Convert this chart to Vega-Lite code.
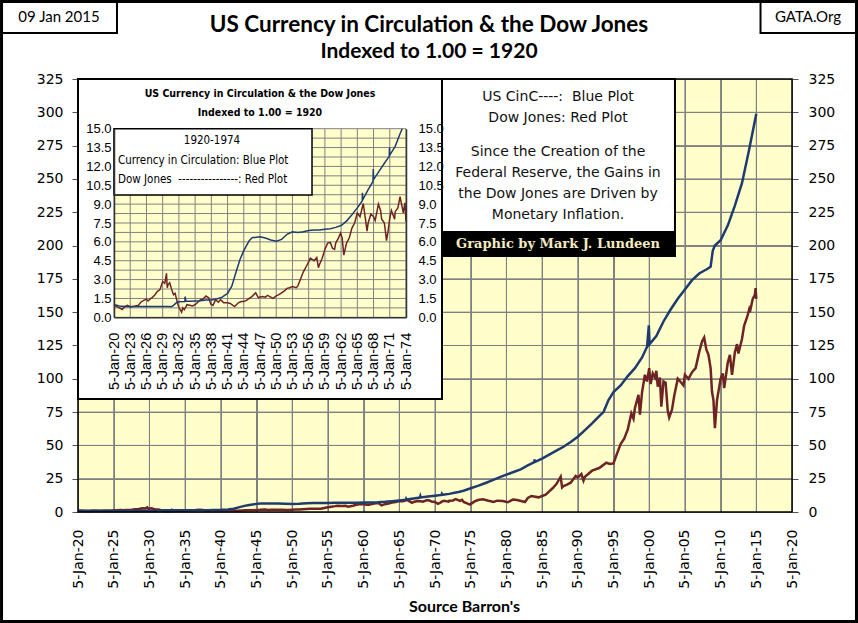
{
  "$schema": "https://vega.github.io/schema/vega-lite/v6.json",
  "width": 714,
  "height": 433,
  "autosize": {"type": "none"},
  "padding": {"left": 78, "top": 79, "right": 66, "bottom": 111},
  "background": "white",
  "config": {"view": {"fill": "#FFFFCC", "stroke": null}},
  "datasets": {
    "cinc": [
      {"year":1920,"value":1.00},{"year":1920.5,"value":0.95},{"year":1921,"value":0.90},{"year":1922,"value":0.86},{"year":1924,"value":0.86},{"year":1926,"value":0.86},{"year":1928,"value":0.85},{"year":1930,"value":0.85},{"year":1930.6,"value":0.84},{"year":1931,"value":0.95},{"year":1931.6,"value":1.18},{"year":1932,"value":1.24},{"year":1933.1,"value":1.26},{"year":1933.15,"value":1.65},{"year":1933.3,"value":1.28},{"year":1934,"value":1.27},{"year":1935,"value":1.30},{"year":1936,"value":1.32},{"year":1937,"value":1.38},{"year":1938,"value":1.38},{"year":1939,"value":1.45},{"year":1940,"value":1.60},{"year":1941,"value":1.90},{"year":1941.8,"value":2.50},{"year":1942.5,"value":3.50},{"year":1943.3,"value":4.60},{"year":1944,"value":5.30},{"year":1945,"value":6.10},{"year":1945.6,"value":6.35},{"year":1946,"value":6.35},{"year":1947,"value":6.40},{"year":1948,"value":6.30},{"year":1949,"value":6.15},{"year":1950,"value":6.05},{"year":1951,"value":6.20},{"year":1952,"value":6.60},{"year":1953,"value":6.80},{"year":1954,"value":6.75},{"year":1955,"value":6.80},{"year":1956,"value":6.90},{"year":1957,"value":6.95},{"year":1958,"value":6.95},{"year":1959,"value":7.00},{"year":1960,"value":7.05},{"year":1961,"value":7.15},{"year":1962,"value":7.30},{"year":1963,"value":7.65},{"year":1964,"value":8.15},{"year":1965,"value":8.70},{"year":1965.9,"value":9.25},{"year":1965.95,"value":9.90},{"year":1966,"value":9.35},{"year":1967,"value":10.15},{"year":1967.9,"value":10.80},{"year":1967.95,"value":11.80},{"year":1968,"value":10.95},{"year":1969,"value":11.60},{"year":1970,"value":12.25},{"year":1970.9,"value":12.80},{"year":1970.95,"value":13.50},{"year":1971,"value":12.90},{"year":1972,"value":13.60},{"year":1972.9,"value":14.60},{"year":1973.3,"value":15.00},{"year":1974,"value":16.0},{"year":1975,"value":17.8},{"year":1976,"value":19.6},{"year":1977,"value":21.6},{"year":1978,"value":23.8},{"year":1979,"value":26.0},{"year":1980,"value":28.0},{"year":1981,"value":30.0},{"year":1982,"value":32.0},{"year":1983,"value":35.0},{"year":1983.9,"value":37.4},{"year":1983.95,"value":39.5},{"year":1984,"value":37.6},{"year":1985,"value":40.0},{"year":1986,"value":43.0},{"year":1987,"value":46.0},{"year":1988,"value":49.0},{"year":1989,"value":52.5},{"year":1990,"value":56.5},{"year":1991,"value":61.5},{"year":1992,"value":66.5},{"year":1993,"value":72.0},{"year":1993.6,"value":75.0},{"year":1994.3,"value":84.0},{"year":1995,"value":90.0},{"year":1996,"value":95.0},{"year":1997,"value":102.0},{"year":1998,"value":108.0},{"year":1999,"value":116.0},{"year":1999.7,"value":124.0},{"year":1999.95,"value":140.0},{"year":2000.05,"value":126.0},{"year":2001,"value":132.0},{"year":2002,"value":143.0},{"year":2003,"value":152.0},{"year":2004,"value":160.0},{"year":2005,"value":167.0},{"year":2006,"value":174.0},{"year":2007,"value":179.0},{"year":2008,"value":182.0},{"year":2008.6,"value":184.0},{"year":2008.9,"value":196.0},{"year":2009.2,"value":200.0},{"year":2010,"value":204.0},{"year":2011,"value":215.0},{"year":2012,"value":230.0},{"year":2013,"value":247.0},{"year":2014,"value":272.0},{"year":2015,"value":299.0}
    ],
    "dow": [
      {"year":1920,"value":1.00},{"year":1920.5,"value":0.85},{"year":1921,"value":0.75},{"year":1921.5,"value":0.62},{"year":1922,"value":0.85},{"year":1922.5,"value":0.95},{"year":1923,"value":0.82},{"year":1923.5,"value":0.85},{"year":1924,"value":0.90},{"year":1924.5,"value":0.95},{"year":1925,"value":1.22},{"year":1925.5,"value":1.35},{"year":1926,"value":1.45},{"year":1926.3,"value":1.30},{"year":1926.8,"value":1.50},{"year":1927,"value":1.55},{"year":1927.5,"value":1.75},{"year":1928,"value":2.05},{"year":1928.5,"value":2.20},{"year":1929,"value":2.85},{"year":1929.4,"value":2.70},{"year":1929.7,"value":3.50},{"year":1929.85,"value":2.35},{"year":1930,"value":2.60},{"year":1930.3,"value":2.75},{"year":1930.6,"value":2.30},{"year":1931,"value":1.80},{"year":1931.3,"value":1.90},{"year":1931.8,"value":1.05},{"year":1932,"value":0.80},{"year":1932.5,"value":0.40},{"year":1932.7,"value":0.75},{"year":1933,"value":0.60},{"year":1933.5,"value":1.00},{"year":1934,"value":0.95},{"year":1934.5,"value":0.90},{"year":1935,"value":1.00},{"year":1935.5,"value":1.20},{"year":1936,"value":1.40},{"year":1936.5,"value":1.45},{"year":1937,"value":1.70},{"year":1937.5,"value":1.55},{"year":1937.9,"value":1.05},{"year":1938.3,"value":0.95},{"year":1938.8,"value":1.40},{"year":1939.3,"value":1.20},{"year":1939.7,"value":1.40},{"year":1940.3,"value":1.15},{"year":1941,"value":1.15},{"year":1941.5,"value":1.10},{"year":1942.3,"value":0.85},{"year":1943,"value":1.15},{"year":1943.5,"value":1.25},{"year":1944,"value":1.25},{"year":1944.5,"value":1.35},{"year":1945,"value":1.50},{"year":1945.5,"value":1.65},{"year":1946.2,"value":1.95},{"year":1946.7,"value":1.55},{"year":1947,"value":1.62},{"year":1947.5,"value":1.65},{"year":1948,"value":1.60},{"year":1948.4,"value":1.75},{"year":1949.4,"value":1.50},{"year":1950,"value":1.70},{"year":1950.5,"value":1.80},{"year":1951,"value":1.95},{"year":1951.5,"value":2.10},{"year":1952,"value":2.30},{"year":1952.5,"value":2.35},{"year":1953,"value":2.45},{"year":1953.7,"value":2.35},{"year":1954,"value":2.50},{"year":1954.5,"value":3.05},{"year":1955,"value":3.60},{"year":1955.5,"value":4.00},{"year":1956,"value":4.40},{"year":1956.3,"value":4.70},{"year":1957,"value":4.50},{"year":1957.5,"value":4.75},{"year":1957.8,"value":3.95},{"year":1958,"value":4.20},{"year":1958.5,"value":4.70},{"year":1959,"value":5.40},{"year":1959.5,"value":5.90},{"year":1960,"value":5.95},{"year":1960.4,"value":5.50},{"year":1960.8,"value":5.40},{"year":1961,"value":5.90},{"year":1961.5,"value":6.30},{"year":1961.9,"value":6.70},{"year":1962.2,"value":6.30},{"year":1962.5,"value":4.95},{"year":1963,"value":5.90},{"year":1963.5,"value":6.30},{"year":1964,"value":7.10},{"year":1964.5,"value":7.50},{"year":1965,"value":8.30},{"year":1965.5,"value":8.00},{"year":1966.1,"value":9.05},{"year":1966.5,"value":7.80},{"year":1966.8,"value":6.85},{"year":1967,"value":7.50},{"year":1967.5,"value":8.20},{"year":1968,"value":8.00},{"year":1968.3,"value":7.70},{"year":1968.9,"value":9.00},{"year":1969.3,"value":8.50},{"year":1969.5,"value":7.80},{"year":1970,"value":7.50},{"year":1970.4,"value":6.10},{"year":1970.7,"value":6.90},{"year":1971,"value":7.90},{"year":1971.3,"value":8.50},{"year":1971.9,"value":7.80},{"year":1972,"value":8.40},{"year":1972.5,"value":8.70},{"year":1972.9,"value":9.60},{"year":1973.5,"value":8.30},{"year":1973.8,"value":9.10},{"year":1974,"value":7.60},{"year":1974.5,"value":6.50},{"year":1974.9,"value":5.60},{"year":1975.5,"value":7.80},{"year":1976,"value":9.00},{"year":1976.7,"value":9.60},{"year":1977.5,"value":8.40},{"year":1978.2,"value":7.50},{"year":1978.7,"value":8.50},{"year":1979.5,"value":8.20},{"year":1980.2,"value":7.30},{"year":1980.9,"value":9.30},{"year":1981.5,"value":9.00},{"year":1982.6,"value":7.50},{"year":1983,"value":10.50},{"year":1983.5,"value":12.00},{"year":1984.5,"value":11.00},{"year":1985,"value":12.00},{"year":1985.5,"value":13.00},{"year":1986,"value":15.50},{"year":1986.5,"value":18.00},{"year":1987,"value":21.00},{"year":1987.6,"value":26.50},{"year":1987.8,"value":18.50},{"year":1988,"value":19.50},{"year":1988.5,"value":20.50},{"year":1989,"value":22.00},{"year":1989.7,"value":27.00},{"year":1990,"value":26.00},{"year":1990.5,"value":28.50},{"year":1990.8,"value":23.50},{"year":1991,"value":26.50},{"year":1992,"value":31.00},{"year":1993,"value":33.00},{"year":1994,"value":37.00},{"year":1994.5,"value":36.00},{"year":1995,"value":36.50},{"year":1995.5,"value":44.00},{"year":1996,"value":51.00},{"year":1996.5,"value":55.00},{"year":1997,"value":62.00},{"year":1997.5,"value":74.00},{"year":1997.8,"value":70.00},{"year":1998,"value":78.00},{"year":1998.5,"value":88.00},{"year":1998.7,"value":73.00},{"year":1999,"value":90.00},{"year":1999.4,"value":103.00},{"year":1999.7,"value":98.00},{"year":2000,"value":108.00},{"year":2000.2,"value":96.00},{"year":2000.5,"value":104.00},{"year":2000.8,"value":101.00},{"year":2001,"value":106.00},{"year":2001.2,"value":94.00},{"year":2001.5,"value":101.00},{"year":2001.7,"value":79.00},{"year":2002,"value":98.00},{"year":2002.3,"value":97.00},{"year":2002.6,"value":76.00},{"year":2002.8,"value":71.00},{"year":2003.2,"value":77.00},{"year":2003.5,"value":87.00},{"year":2004,"value":100.00},{"year":2004.5,"value":97.00},{"year":2004.8,"value":95.00},{"year":2005,"value":103.00},{"year":2005.5,"value":100.00},{"year":2006,"value":105.00},{"year":2006.5,"value":108.00},{"year":2007,"value":120.00},{"year":2007.4,"value":128.00},{"year":2007.7,"value":131.00},{"year":2008,"value":122.00},{"year":2008.3,"value":118.00},{"year":2008.6,"value":108.00},{"year":2008.8,"value":90.00},{"year":2009,"value":84.00},{"year":2009.2,"value":63.00},{"year":2009.5,"value":84.00},{"year":2010,"value":100.00},{"year":2010.3,"value":104.00},{"year":2010.5,"value":93.00},{"year":2011,"value":112.00},{"year":2011.3,"value":118.00},{"year":2011.6,"value":103.00},{"year":2012,"value":120.00},{"year":2012.3,"value":126.00},{"year":2012.5,"value":119.00},{"year":2013,"value":130.00},{"year":2013.3,"value":140.00},{"year":2013.7,"value":146.00},{"year":2014,"value":152.00},{"year":2014.1,"value":150.00},{"year":2014.5,"value":160.00},{"year":2014.8,"value":163.00},{"year":2014.9,"value":168.00},{"year":2015,"value":160.00}
    ],
    "gx": [{"year":1920},{"year":1923},{"year":1926},{"year":1929},{"year":1932},{"year":1935},{"year":1938},{"year":1941},{"year":1944},{"year":1947},{"year":1950},{"year":1953},{"year":1956},{"year":1959},{"year":1962},{"year":1965},{"year":1968},{"year":1971},{"year":1974}],
    "gy": [{"value":0},{"value":0.75},{"value":1.5},{"value":2.25},{"value":3},{"value":3.75},{"value":4.5},{"value":5.25},{"value":6},{"value":6.75},{"value":7.5},{"value":8.25},{"value":9},{"value":9.75},{"value":10.5},{"value":11.25},{"value":12},{"value":12.75},{"value":13.5},{"value":14.25},{"value":15}]
  },
  "layer": [
    {
      "resolve": {"axis": {"x": "independent", "y": "independent"}},
      "layer": [
        {
          "data": {"values": [{"year":1925},{"year":1930},{"year":1935},{"year":1940},{"year":1945},{"year":1950},{"year":1955},{"year":1960},{"year":1965},{"year":1970},{"year":1975},{"year":1980},{"year":1985},{"year":1990},{"year":1995},{"year":2000},{"year":2005},{"year":2010},{"year":2015}]},
          "mark": {"type": "rule", "color": "#808080", "strokeWidth": 1},
          "encoding": {
            "x": {"field": "year", "type": "quantitative", "scale": {"domain": [1920, 2020], "nice": false, "zero": false}, "axis": null},
            "y": {"datum": 0, "scale": {"domain": [0, 325], "nice": false, "zero": false}, "axis": null}, "y2": {"datum": 325}
          }
        },
        {
          "data": {"values": [{"value":25},{"value":50},{"value":75},{"value":100},{"value":125},{"value":150},{"value":175},{"value":200},{"value":225},{"value":250},{"value":275},{"value":300}]},
          "mark": {"type": "rule", "color": "#808080", "strokeWidth": 1},
          "encoding": {
            "y": {"field": "value", "type": "quantitative", "axis": null},
            "x": {"datum": 1920, "axis": null}, "x2": {"datum": 2020}
          }
        },
        {
          "data": {"name": "dow"},
          "mark": {"type": "line", "color": "#6E2424", "strokeWidth": 2.5},
          "encoding": {
            "x": {"field": "year", "type": "quantitative",
              "axis": {"orient": "bottom", "values": [1920,1925,1930,1935,1940,1945,1950,1955,1960,1965,1970,1975,1980,1985,1990,1995,2000,2005,2010,2015,2020],
                "labelExpr": "'5-Jan-' + format(datum.value % 100, '02d')", "labelAngle": -90, "labelFont": "DejaVu Sans", "labelFontSize": 14, "labelColor": "#000000",
                "labelPadding": 17, "labelFlush": false, "labelOverlap": false, "ticks": false, "tickSize": 0, "domain": false,
                "grid": true, "gridColor": "#808080", "gridWidth": 1, "gridOpacity": 1,
                "title": "Source Barron's", "titleFont": "Lato", "titleFontSize": 16, "titleFontWeight": "bold", "titleColor": "#000000",
                "titleX": 386, "titleY": 94, "titleAlign": "center", "titleBaseline": "middle"}},
            "y": {"field": "value", "type": "quantitative",
              "axis": {"orient": "left", "values": [0,25,50,75,100,125,150,175,200,225,250,275,300,325],
                "labelFont": "DejaVu Sans", "labelFontSize": 14, "labelColor": "#000000", "labelPadding": 9, "labelFlush": false, "labelOverlap": false,
                "ticks": true, "tickSize": 6, "tickColor": "#555555", "domain": false,
                "grid": true, "gridColor": "#808080", "gridWidth": 1, "gridOpacity": 1, "title": null}}
          }
        },
        {
          "data": {"name": "cinc"},
          "mark": {"type": "line", "color": "#1F3B6E", "strokeWidth": 2.5},
          "encoding": {
            "x": {"field": "year", "type": "quantitative", "axis": null},
            "y": {"field": "value", "type": "quantitative",
              "axis": {"orient": "right", "values": [0,25,50,75,100,125,150,175,200,225,250,275,300,325],
                "labelFont": "DejaVu Sans", "labelFontSize": 14, "labelColor": "#000000", "labelPadding": 10, "labelFlush": false, "labelOverlap": false,
                "ticks": true, "tickSize": 6, "tickColor": "#555555", "domain": false, "grid": false, "title": null}}
          }
        },
        {
          "data": {"values": [{}]},
          "mark": {"type": "rect", "fill": "#FFFFFF", "fillOpacity": 0, "stroke": "#000000", "strokeWidth": 1.5},
          "encoding": {
            "x": {"datum": 1920, "axis": null}, "x2": {"datum": 2020},
            "y": {"datum": 0, "axis": null}, "y2": {"datum": 325}
          }
        },
        {
          "data": {"values": [{}]},
          "mark": {"type": "rect", "fill": "#FFFFFF", "stroke": "#000000", "strokeWidth": 2},
          "encoding": {
            "x": {"datum": 1920, "axis": null}, "x2": {"datum": 1970.98},
            "y": {"datum": 325, "axis": null}, "y2": {"datum": 84.8}
          }
        },
        {
          "data": {"values": [{}]},
          "mark": {"type": "rect", "fill": "#FFFFFF", "stroke": "#000000", "strokeWidth": 2},
          "encoding": {
            "x": {"datum": 1970.98, "axis": null}, "x2": {"datum": 2003.61},
            "y": {"datum": 325, "axis": null}, "y2": {"datum": 210.2}
          }
        },
        {
          "data": {"values": [{}]},
          "mark": {"type": "rect", "fill": "#000000", "stroke": "#000000", "strokeWidth": 2},
          "encoding": {
            "x": {"datum": 1970.98, "axis": null}, "x2": {"datum": 2003.61},
            "y": {"datum": 210.2, "axis": null}, "y2": {"datum": 192.1}
          }
        },
        {
          "data": {"values": [{}]},
          "mark": {"type": "text", "font": "DejaVu Sans", "fontSize": 14, "color": "#111111", "align": "center", "baseline": "middle", "lineHeight": 21},
          "encoding": {
            "x": {"datum": 1987.23, "axis": null}, "y": {"datum": 311.5, "axis": null},
            "text": {"value": ["US CinC----:\u00a0 Blue Plot", "Dow Jones: Red Plot"]}
          }
        },
        {
          "data": {"values": [{}]},
          "mark": {"type": "text", "font": "DejaVu Sans", "fontSize": 14, "color": "#111111", "align": "center", "baseline": "middle", "lineHeight": 20.9},
          "encoding": {
            "x": {"datum": 1987.23, "axis": null}, "y": {"datum": 270.2, "axis": null},
            "text": {"value": ["Since the Creation of the", "Federal Reserve, the Gains in", "the Dow Jones are Driven by", "Monetary Inflation."]}
          }
        },
        {
          "data": {"values": [{}]},
          "mark": {"type": "text", "font": "DejaVu Serif", "fontSize": 13, "fontWeight": "bold", "color": "#F3EBC3", "align": "center", "baseline": "middle"},
          "encoding": {
            "x": {"datum": 1987.23, "axis": null}, "y": {"datum": 201.2, "axis": null},
            "text": {"value": "Graphic by Mark J. Lundeen"}
          }
        },
        {
          "data": {"values": [{}]},
          "mark": {"type": "text", "font": "Lato", "fontSize": 22.5, "fontWeight": "bold", "color": "#000000", "align": "center", "baseline": "middle"},
          "encoding": {
            "x": {"datum": 1969.16, "axis": null}, "y": {"datum": 365.5, "axis": null},
            "text": {"value": "US Currency in Circulation & the Dow Jones"}
          }
        },
        {
          "data": {"values": [{}]},
          "mark": {"type": "text", "font": "Lato", "fontSize": 21, "fontWeight": "bold", "color": "#000000", "align": "center", "baseline": "middle"},
          "encoding": {
            "x": {"datum": 1969.16, "axis": null}, "y": {"datum": 345.3, "axis": null},
            "text": {"value": "Indexed to 1.00 = 1920"}
          }
        },
        {
          "data": {"values": [{}]},
          "mark": {"type": "rect", "fill": "#FFFFFF", "stroke": "#000000", "strokeWidth": 2},
          "encoding": {
            "x": {"datum": 1909.29, "axis": null}, "x2": {"datum": 1925.46},
            "y": {"datum": 383.2, "axis": null}, "y2": {"datum": 359.5}
          }
        },
        {
          "data": {"values": [{}]},
          "mark": {"type": "rect", "fill": "#FFFFFF", "stroke": "#000000", "strokeWidth": 2},
          "encoding": {
            "x": {"datum": 2015.59, "axis": null}, "x2": {"datum": 2029.03},
            "y": {"datum": 383.2, "axis": null}, "y2": {"datum": 359.5}
          }
        },
        {
          "data": {"values": [{}]},
          "mark": {"type": "text", "font": "Lato", "fontSize": 15, "color": "#000000", "align": "center", "baseline": "middle"},
          "encoding": {
            "x": {"datum": 1917.34, "axis": null}, "y": {"datum": 371.5, "axis": null},
            "text": {"value": "09 Jan 2015"}
          }
        },
        {
          "data": {"values": [{}]},
          "mark": {"type": "text", "font": "Lato", "fontSize": 15, "color": "#000000", "align": "center", "baseline": "middle"},
          "encoding": {
            "x": {"datum": 2022.24, "axis": null}, "y": {"datum": 371.5, "axis": null},
            "text": {"value": "GATA.Org"}
          }
        },
        {
          "data": {"values": [{}]},
          "mark": {"type": "rect", "fill": "#FFFFFF", "fillOpacity": 0, "stroke": "#000000", "strokeWidth": 3},
          "encoding": {
            "x": {"datum": 1909.29, "axis": null}, "x2": {"datum": 2029.03},
            "y": {"datum": 383.2, "axis": null}, "y2": {"datum": -82.2}
          }
        }
      ]
    },
    {
      "resolve": {"axis": {"x": "independent", "y": "independent"}},
      "layer": [
        {
          "data": {"values": [{}]},
          "mark": {"type": "rect", "fill": "#FFFFCC"},
          "encoding": {
            "x": {"datum": 1920, "scale": {"domain": [1920, 1974], "range": [36, 328], "nice": false, "zero": false}, "axis": null}, "x2": {"datum": 1974},
            "y": {"datum": 0, "scale": {"domain": [0, 15], "range": [238.3, 49.7], "nice": false, "zero": false}, "axis": null}, "y2": {"datum": 15}
          }
        },
        {
          "data": {"name": "gx"},
          "mark": {"type": "rule", "color": "#808080", "strokeWidth": 1},
          "encoding": {
            "x": {"field": "year", "type": "quantitative", "axis": null},
            "y": {"datum": 0, "axis": null}, "y2": {"datum": 15}
          }
        },
        {
          "data": {"name": "gy"},
          "mark": {"type": "rule", "color": "#808080", "strokeWidth": 1},
          "encoding": {
            "y": {"field": "value", "type": "quantitative", "axis": null},
            "x": {"datum": 1920, "axis": null}, "x2": {"datum": 1974}
          }
        },
        {
          "data": {"name": "dow"},
          "transform": [{"filter": "datum.year <= 1974.05"}],
          "mark": {"type": "line", "color": "#6E2424", "strokeWidth": 1.5},
          "encoding": {
            "x": {"field": "year", "type": "quantitative",
              "axis": {"orient": "bottom", "offset": -194.7, "zindex": 1, "values": [1920,1923,1926,1929,1932,1935,1938,1941,1944,1947,1950,1953,1956,1959,1962,1965,1968,1971,1974],
                "labelExpr": "'5-Jan-' + format(datum.value % 100, '02d')", "labelAngle": -90, "labelFont": "Liberation Sans", "labelFontSize": 14.5, "labelColor": "#000000",
                "labelPadding": 15, "labelFlush": false, "labelOverlap": false, "ticks": false, "tickSize": 0,
                "domain": true, "domainColor": "#333333", "domainWidth": 1.5, "grid": false, "title": null}},
            "y": {"field": "value", "type": "quantitative",
              "axis": {"orient": "left", "offset": -36, "zindex": 1, "values": [0,1.5,3,4.5,6,7.5,9,10.5,12,13.5,15], "format": ".1f",
                "labelFont": "Liberation Sans", "labelFontSize": 13, "labelColor": "#000000", "labelPadding": 3, "labelFlush": false, "labelOverlap": false,
                "ticks": false, "tickSize": 0, "domain": true, "domainColor": "#333333", "domainWidth": 1.5, "grid": false, "title": null}}
          }
        },
        {
          "data": {"name": "cinc"},
          "transform": [{"filter": "datum.year <= 1974.05 && datum.value <= 15.001"}],
          "mark": {"type": "line", "color": "#1F3B6E", "strokeWidth": 1.5},
          "encoding": {
            "x": {"field": "year", "type": "quantitative", "axis": null},
            "y": {"field": "value", "type": "quantitative",
              "axis": {"orient": "right", "offset": -386, "zindex": 1, "values": [0,1.5,3,4.5,6,7.5,9,10.5,12,13.5,15], "format": ".1f",
                "labelFont": "Liberation Sans", "labelFontSize": 13, "labelColor": "#000000", "labelPadding": 12, "labelFlush": false, "labelOverlap": false,
                "ticks": false, "tickSize": 0, "domain": true, "domainColor": "#333333", "domainWidth": 1.5, "grid": false, "title": null}}
          }
        },
        {
          "data": {"values": [{}]},
          "mark": {"type": "rect", "fill": "#FFFFFF", "stroke": "#000000", "strokeWidth": 1.5},
          "encoding": {
            "x": {"datum": 1920, "axis": null}, "x2": {"datum": 1956.62},
            "y": {"datum": 15, "axis": null}, "y2": {"datum": 9.73}
          }
        },
        {
          "data": {"values": [{}]},
          "mark": {"type": "text", "font": "DejaVu Sans Condensed, Liberation Sans", "fontSize": 11.5, "color": "#000000", "align": "center", "baseline": "middle"},
          "encoding": {
            "x": {"datum": 1938.12, "axis": null}, "y": {"datum": 14.02, "axis": null},
            "text": {"value": "1920-1974"}
          }
        },
        {
          "data": {"values": [{}]},
          "mark": {"type": "text", "font": "DejaVu Sans Condensed, Liberation Sans", "fontSize": 11.5, "color": "#000000", "align": "left", "baseline": "middle", "lineHeight": 19},
          "encoding": {
            "x": {"datum": 1920.74, "axis": null}, "y": {"datum": 12.43, "axis": null},
            "text": {"value": ["Currency in Circulation: Blue Plot", "Dow Jones\u00a0 ----------------: Red Plot"]}
          }
        },
        {
          "data": {"values": [{}]},
          "mark": {"type": "text", "font": "DejaVu Sans Condensed, Liberation Sans", "fontSize": 10.5, "fontWeight": "bold", "color": "#000000", "align": "center", "baseline": "middle", "lineHeight": 19},
          "encoding": {
            "x": {"datum": 1947, "axis": null}, "y": {"datum": 17.76, "axis": null},
            "text": {"value": ["US Currency in Circulation & the Dow Jones", "Indexed to 1.00 = 1920"]}
          }
        }
      ]
    }
  ],
  "resolve": {"scale": {"x": "independent", "y": "independent"}, "axis": {"x": "independent", "y": "independent"}}
}
